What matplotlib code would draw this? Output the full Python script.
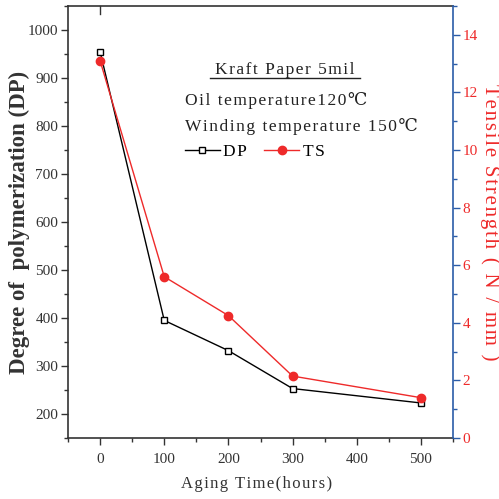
import matplotlib

matplotlib.use("Agg")
import matplotlib.pyplot as plt
from matplotlib.ticker import MultipleLocator

# data
hours = [0, 100, 200, 300, 500]
dp_values = [955, 395, 332, 253, 223]
ts_values = [13.1, 5.6, 4.25, 2.15, 1.4]

SERIF = ["Liberation Serif", "DejaVu Serif"]
BLUE = "#2b5ca8"
RED = "#ee2a2a"
INK = "#222222"


def spaced(s: str, gap: str = "\u200a") -> str:
    """Fake letter spacing with hair spaces."""
    return gap.join(s)


plt.rcParams["font.family"] = SERIF

fig = plt.figure(figsize=(4.99, 4.99), dpi=100)
ax = fig.add_axes([68 / 499, 61 / 499, 385 / 499, 432 / 499])
ax2 = ax.twinx()

ax.plot(hours, dp_values, color="black", lw=1.0, marker="s", ms=4.5,
        mfc="white", mec="black", mew=1.0, label=spaced("DP"), zorder=3)
ax2.plot(hours, ts_values, color=RED, lw=1.0, marker="o", ms=6,
         mfc=RED, mec=RED, label=spaced("TS"), zorder=3)

ax.set_xlim(-50, 550)
ax.set_ylim(150, 1050)
ax2.set_ylim(0, 15)

ax.xaxis.set_major_locator(MultipleLocator(100))
ax.xaxis.set_minor_locator(MultipleLocator(50))
ax.yaxis.set_major_locator(MultipleLocator(100))
ax.yaxis.set_minor_locator(MultipleLocator(50))
ax2.yaxis.set_major_locator(MultipleLocator(2))
ax2.yaxis.set_minor_locator(MultipleLocator(1))

ax.tick_params(axis="both", which="both", direction="out", width=1.0,
               labelsize=11, top=False, colors="#333333")
ax.tick_params(which="major", length=5)
ax.tick_params(which="minor", length=3)
ax.tick_params(axis="x", pad=6)
ax.tick_params(axis="y", pad=2)
ax2.tick_params(axis="y", which="both", direction="out", colors=BLUE,
                labelcolor=RED, labelsize=11, width=1.0, pad=2)
ax2.tick_params(which="major", length=5)
ax2.tick_params(which="minor", length=3)

for name in ("left", "top", "bottom"):
    ax.spines[name].set_linewidth(1.2)
    ax.spines[name].set_color("#333333")
ax2.spines["right"].set_color(BLUE)
ax2.spines["right"].set_linewidth(1.2)
ax2.spines["left"].set_visible(False)
ax2.spines["top"].set_visible(False)
ax2.spines["bottom"].set_visible(False)
ax.spines["right"].set_visible(False)

# single top tick at x=0, like the reference
ax.plot([0, 0], [1050, 1034], color="#333333", lw=1.0, clip_on=False)

ax.set_ylabel("Degree of  polymerization (DP)", fontsize=16.5,
              fontweight="bold", color="#333333", va="center")
ax.yaxis.set_label_coords(-0.125, 0.5)
ax.set_xlabel(spaced("Aging Time(hours)"), fontsize=12, color="#333333")
ax.xaxis.set_label_coords(0.49, -0.088)
ax2.set_ylabel(spaced("Tensile Strength ( N / mm )"), fontsize=15,
               color=RED, rotation=-90, va="center")
ax2.yaxis.set_label_coords(1.096, 0.5)

# annotation block
ax.text(288, 917, spaced("Kraft Paper 5mil"), fontsize=12.5, ha="center",
        va="center", color=INK)
ax.plot([171, 405], [900, 900], color=INK, lw=1.0)
ax.text(132, 854, spaced("Oil temperature120℃"), fontsize=12.5,
        va="center", color=INK)
ax.text(132, 798, spaced("Winding temperature 150℃"), fontsize=12.5,
        va="center", color=INK)

h1, l1 = ax.get_legend_handles_labels()
h2, l2 = ax2.get_legend_handles_labels()
ax2.legend(h1 + h2, l1 + l2, loc="center left",
           bbox_to_anchor=(0.304, 0.662), ncol=2, frameon=False,
           fontsize=12.5, handlelength=2.0, handletextpad=0.2,
           columnspacing=1.0, borderaxespad=0, borderpad=0)

fig.savefig("out.png", dpi=100)
